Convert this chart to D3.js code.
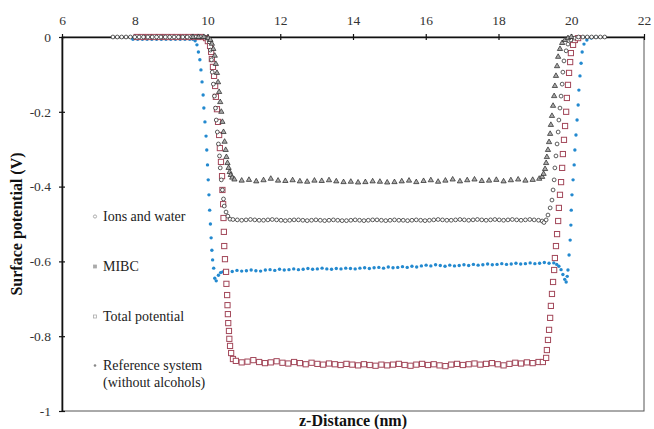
<!DOCTYPE html>
<html>
<head>
<meta charset="utf-8">
<script src="https://cdn.jsdelivr.net/npm/d3@7"></script>
<style>
  body { margin: 0; background: #fff; }
  svg text { font-family: "Liberation Serif", "Times New Roman", serif; }
</style>
</head>
<body>
<div id="viz"></div>
<script>
// axis ticks
const xTicks = [6, 8, 10, 12, 14, 16, 18, 20, 22];
const yTicks = [0, -0.2, -0.4, -0.6, -0.8, -1];

// MIBC (triangles)
const mibcX = [9.60, 9.75, 9.90,
  10.02, 10.08, 10.12, 10.16, 10.20, 10.23, 10.26, 10.29, 10.32, 10.35, 10.38, 10.41, 10.44, 10.47, 10.50, 10.52, 10.55, 10.58, 10.61, 10.64, 10.68,
  10.74, 10.94, 11.14, 11.34, 11.54, 11.74, 11.94, 12.14, 12.34, 12.54, 12.74, 12.94, 13.14, 13.34, 13.54, 13.74, 13.94, 14.14, 14.34, 14.54, 14.74,
  14.94, 15.14, 15.34, 15.54, 15.74, 15.94, 16.14, 16.34, 16.54, 16.74, 16.94, 17.14, 17.34, 17.54, 17.74, 17.94, 18.14, 18.34, 18.54, 18.74, 18.94, 19.12,
  19.20, 19.24, 19.28, 19.31, 19.33, 19.36, 19.39, 19.42, 19.44, 19.47, 19.50, 19.53, 19.55, 19.58, 19.61, 19.64, 19.69, 19.75, 19.83, 19.91, 20.00];
const mibcY = [0, 0, 0,
  -0.003, -0.008, -0.018, -0.032, -0.050, -0.072, -0.096, -0.121, -0.147, -0.174, -0.200, -0.227, -0.254, -0.280, -0.302, -0.321, -0.337, -0.350, -0.361, -0.369, -0.376,
  -0.381, -0.384, -0.382, -0.386, -0.383, -0.379, -0.384, -0.385, -0.383, -0.386, -0.387, -0.384, -0.385, -0.383, -0.386, -0.388, -0.387, -0.389, -0.388, -0.386, -0.387,
  -0.389, -0.388, -0.386, -0.384, -0.388, -0.385, -0.383, -0.387, -0.384, -0.381, -0.386, -0.383, -0.381, -0.385, -0.384, -0.382, -0.386, -0.383, -0.381, -0.384, -0.382, -0.379,
  -0.374, -0.366, -0.353, -0.337, -0.321, -0.302, -0.281, -0.259, -0.235, -0.211, -0.184, -0.158, -0.131, -0.104, -0.078, -0.053, -0.032, -0.016, -0.008, -0.003, 0];

// Ions and water (open circles)
const ionsX = [7.40, 7.52, 7.64, 7.76, 7.88, 8.00, 8.12, 8.24, 8.36, 8.48, 8.60, 8.72, 8.84, 8.96, 9.08, 9.20, 9.32, 9.44, 9.56, 9.68, 9.80, 9.92,
  10.00, 10.05, 10.08, 10.11, 10.13, 10.16, 10.19, 10.22, 10.24, 10.27, 10.30, 10.33, 10.35, 10.38, 10.41, 10.44, 10.46, 10.51, 10.56, 10.62,
  10.70, 10.82, 10.94, 11.06, 11.18, 11.30, 11.42, 11.54, 11.66, 11.78, 11.90, 12.02, 12.14, 12.26, 12.38, 12.50, 12.62, 12.74, 12.86, 12.98,
  13.10, 13.22, 13.34, 13.46, 13.58, 13.70, 13.82, 13.94, 14.06, 14.18, 14.30, 14.42, 14.54, 14.66, 14.78, 14.90, 15.02, 15.14, 15.26, 15.38,
  15.50, 15.62, 15.74, 15.86, 15.98, 16.10, 16.22, 16.34, 16.46, 16.58, 16.70, 16.82, 16.94, 17.06, 17.18, 17.30, 17.42, 17.54, 17.66, 17.78,
  17.90, 18.02, 18.14, 18.26, 18.38, 18.50, 18.62, 18.74, 18.86, 18.98, 19.10,
  19.20, 19.25, 19.31, 19.36, 19.42, 19.47, 19.50, 19.53, 19.55, 19.58, 19.61, 19.64, 19.66, 19.69, 19.72, 19.75, 19.77, 19.80, 19.86, 19.91,
  19.99, 20.08, 20.20, 20.32, 20.44, 20.56, 20.68, 20.80, 20.92];
const ionsY = [0, 0, 0, 0, 0, 0, 0, 0, 0, 0, 0, 0, 0, 0, 0, 0, 0, 0, 0, 0, 0, 0,
  -0.003, -0.013, -0.035, -0.061, -0.094, -0.126, -0.158, -0.190, -0.222, -0.254, -0.286, -0.318, -0.350, -0.382, -0.409, -0.433, -0.452, -0.468, -0.479, -0.487,
  -0.488, -0.489, -0.490, -0.489, -0.488, -0.489, -0.490, -0.490, -0.489, -0.488, -0.489, -0.490, -0.491, -0.490, -0.489, -0.489, -0.490, -0.491, -0.490, -0.489,
  -0.490, -0.491, -0.490, -0.489, -0.490, -0.491, -0.491, -0.490, -0.489, -0.490, -0.491, -0.490, -0.489, -0.489, -0.490, -0.491, -0.490, -0.489, -0.490, -0.490,
  -0.491, -0.490, -0.489, -0.490, -0.491, -0.490, -0.489, -0.488, -0.489, -0.490, -0.490, -0.489, -0.488, -0.489, -0.490, -0.489, -0.488, -0.489, -0.490, -0.489,
  -0.488, -0.489, -0.490, -0.489, -0.488, -0.489, -0.490, -0.489, -0.488, -0.489, -0.490,
  -0.492, -0.496, -0.489, -0.476, -0.457, -0.436, -0.409, -0.382, -0.350, -0.318, -0.286, -0.254, -0.222, -0.190, -0.158, -0.126, -0.094, -0.064, -0.037, -0.019,
  -0.008, -0.003, 0, 0, 0, 0, 0, 0, 0];

// Total potential (open squares)
const totalX = [8.05, 8.21, 8.37, 8.53, 8.69, 8.85, 9.01, 9.17, 9.33, 9.49, 9.65, 9.81,
  9.96, 10.01, 10.07, 10.10, 10.12, 10.15, 10.18, 10.21, 10.23, 10.26, 10.29, 10.32, 10.34, 10.37, 10.40, 10.41, 10.43, 10.44, 10.45, 10.46,
  10.48, 10.51, 10.52, 10.54, 10.55, 10.56, 10.57, 10.59, 10.60, 10.62, 10.65, 10.70,
  10.78, 10.94, 11.10, 11.26, 11.42, 11.58, 11.74, 11.90, 12.06, 12.22, 12.38, 12.54, 12.70, 12.86, 13.02, 13.18, 13.34, 13.50, 13.66, 13.82,
  13.98, 14.14, 14.30, 14.46, 14.62, 14.78, 14.94, 15.10, 15.26, 15.42, 15.58, 15.74, 15.90, 16.06, 16.22, 16.38, 16.54, 16.70, 16.86, 17.02,
  17.18, 17.34, 17.50, 17.66, 17.82, 17.98, 18.14, 18.30, 18.46, 18.62, 18.78, 18.94, 19.10,
  19.22, 19.31, 19.33, 19.36, 19.39, 19.42, 19.44, 19.47, 19.50, 19.53, 19.55, 19.58, 19.61, 19.64, 19.66, 19.69, 19.72, 19.75, 19.77, 19.80,
  19.83, 19.86, 19.88, 19.91, 19.94, 19.97, 19.99, 20.05, 20.10, 20.19];
const totalY = [0, 0, 0, 0, 0, 0, 0, 0, 0, 0, 0, 0,
  -0.003, -0.011, -0.024, -0.040, -0.059, -0.080, -0.104, -0.131, -0.160, -0.193, -0.227, -0.262, -0.297, -0.334, -0.372, -0.409, -0.447, -0.484, -0.521, -0.559,
  -0.594, -0.628, -0.660, -0.690, -0.717, -0.741, -0.765, -0.786, -0.807, -0.826, -0.845, -0.861,
  -0.866, -0.870, -0.868, -0.864, -0.869, -0.872, -0.870, -0.867, -0.871, -0.873, -0.869, -0.872, -0.875, -0.871, -0.874, -0.876, -0.873, -0.875, -0.877, -0.874,
  -0.876, -0.878, -0.875, -0.877, -0.879, -0.876, -0.878, -0.876, -0.874, -0.877, -0.879, -0.876, -0.874, -0.877, -0.875, -0.878, -0.880, -0.876, -0.874, -0.877,
  -0.875, -0.873, -0.876, -0.874, -0.872, -0.875, -0.878, -0.874, -0.871, -0.873, -0.870, -0.872, -0.869,
  -0.869, -0.858, -0.837, -0.810, -0.783, -0.751, -0.719, -0.687, -0.655, -0.623, -0.591, -0.559, -0.527, -0.492, -0.457, -0.422, -0.388, -0.350, -0.313, -0.275,
  -0.238, -0.200, -0.163, -0.128, -0.096, -0.067, -0.043, -0.021, -0.008, -0.003];

// Reference system without alcohols (small filled dots)
const refX = [7.95, 8.08, 8.21, 8.34, 8.47, 8.60, 8.73, 8.86, 8.99, 9.12, 9.25, 9.38, 9.51, 9.60,
  9.66, 9.71, 9.75, 9.79, 9.82, 9.85, 9.88, 9.90, 9.93, 9.96, 9.98, 10.00, 10.02, 10.04, 10.06, 10.08, 10.10, 10.12, 10.14, 10.17, 10.20, 10.24, 10.30, 10.36,
  10.42, 10.55, 10.68, 10.81, 10.94, 11.07, 11.20, 11.33, 11.46, 11.59, 11.72, 11.85, 11.98, 12.11, 12.24, 12.37, 12.50, 12.63, 12.76, 12.89,
  13.02, 13.15, 13.28, 13.41, 13.54, 13.67, 13.80, 13.93, 14.06, 14.19, 14.32, 14.45, 14.58, 14.71, 14.84, 14.97, 15.10, 15.23, 15.36, 15.49,
  15.62, 15.75, 15.88, 16.01, 16.14, 16.27, 16.40, 16.53, 16.66, 16.79, 16.92, 17.05, 17.18, 17.31, 17.44, 17.57, 17.70, 17.83, 17.96, 18.09,
  18.22, 18.35, 18.48, 18.61, 18.74, 18.87, 19.00, 19.13, 19.26, 19.39, 19.52,
  19.60, 19.66, 19.72, 19.77, 19.82, 19.86, 19.89, 19.91, 19.94, 19.97, 19.99, 20.00, 20.02, 20.05, 20.08, 20.10, 20.13, 20.16, 20.19, 20.21,
  20.24, 20.27, 20.30, 20.35, 20.43, 20.55, 20.68];
const refY = [-0.006, -0.006, -0.006, -0.006, -0.006, -0.006, -0.006, -0.006, -0.006, -0.006, -0.006, -0.006, -0.006, -0.006,
  -0.010, -0.021, -0.040, -0.061, -0.088, -0.120, -0.155, -0.190, -0.227, -0.265, -0.302, -0.342, -0.382, -0.422, -0.463, -0.500, -0.537, -0.570, -0.596, -0.618, -0.645, -0.652, -0.637, -0.630,
  -0.628, -0.626, -0.627, -0.624, -0.626, -0.625, -0.623, -0.625, -0.626, -0.623, -0.622, -0.624, -0.621, -0.623, -0.622, -0.620, -0.622, -0.621, -0.619, -0.621,
  -0.620, -0.618, -0.620, -0.621, -0.619, -0.620, -0.618, -0.619, -0.620, -0.618, -0.617, -0.619, -0.617, -0.616, -0.618, -0.615, -0.617, -0.616, -0.614, -0.616,
  -0.613, -0.615, -0.612, -0.610, -0.612, -0.609, -0.611, -0.613, -0.610, -0.612, -0.611, -0.609, -0.611, -0.608, -0.610, -0.609, -0.607, -0.609, -0.608, -0.606,
  -0.608, -0.607, -0.605, -0.607, -0.606, -0.604, -0.606, -0.605, -0.603, -0.605, -0.604,
  -0.608, -0.613, -0.622, -0.635, -0.648, -0.655, -0.640, -0.623, -0.583, -0.543, -0.503, -0.463, -0.422, -0.382, -0.342, -0.302, -0.262, -0.222, -0.182, -0.142,
  -0.104, -0.070, -0.040, -0.019, -0.008, -0.003, 0];

const legendNames = ["Ions and water", "MIBC", "Total potential", "Reference system", "(without alcohols)"];

const serif = '"Liberation Serif", "Times New Roman", serif';

function drawChart() {
  const width = 654;
  const height = 429;
  const margin = { top: 37, right: 10, bottom: 18, left: 62 };

  const svg = d3
    .select("#viz")
    .append("svg")
    .attr("width", width)
    .attr("height", height)
    .style("font-family", serif);

  const x = d3.scaleLinear().domain([6, 22]).range([margin.left, width - margin.right]);
  const y = d3.scaleLinear().domain([-1, 0]).range([height - margin.bottom, margin.top]);

  // plot frame (right and bottom)
  svg
    .append("rect")
    .attr("x", x(6))
    .attr("y", y(0))
    .attr("width", x(22) - x(6))
    .attr("height", y(-1) - y(0))
    .attr("fill", "none")
    .attr("stroke", "#555")
    .attr("stroke-width", 1);

  // top axis
  const xAxis = svg
    .append("g")
    .attr("transform", `translate(0,${y(0)})`)
    .call(d3.axisTop(x).tickValues(xTicks).tickSizeInner(3).tickSizeOuter(0).tickPadding(9));
  xAxis.attr("font-family", null);
  xAxis.select(".domain").attr("stroke", "#111").attr("stroke-width", 1.6);
  xAxis.selectAll(".tick line").attr("y1", 3).attr("stroke", "#111").attr("stroke-width", 1.2);
  xAxis.selectAll(".tick text")
    .style("font-family", serif)
    .style("font-size", "13.5px")
    .attr("fill", "#333");

  // left axis
  const yAxis = svg
    .append("g")
    .attr("transform", `translate(${x(6)},0)`)
    .call(
      d3.axisLeft(y)
        .tickValues(yTicks)
        .tickFormat((d) => String(d))
        .tickSizeInner(3)
        .tickSizeOuter(0)
        .tickPadding(8)
    );
  yAxis.attr("font-family", null);
  yAxis.select(".domain").attr("stroke", "#111").attr("stroke-width", 1.6);
  yAxis.selectAll(".tick line").attr("x1", 3).attr("stroke", "#111").attr("stroke-width", 1.2);
  yAxis.selectAll(".tick text")
    .style("font-family", serif)
    .style("font-size", "13.5px")
    .attr("fill", "#333");

  // series
  const refData = d3.zip(refX, refY);
  const totalData = d3.zip(totalX, totalY);
  const ionsData = d3.zip(ionsX, ionsY);
  const mibcData = d3.zip(mibcX, mibcY);

  svg
    .append("g")
    .selectAll("circle")
    .data(refData)
    .enter()
    .append("circle")
    .attr("cx", (d) => x(d[0]))
    .attr("cy", (d) => y(d[1]))
    .attr("r", 1.7)
    .attr("fill", "#2389cf");

  svg
    .append("g")
    .selectAll("rect")
    .data(totalData)
    .enter()
    .append("rect")
    .attr("x", (d) => x(d[0]) - 2.6)
    .attr("y", (d) => y(d[1]) - 2.6)
    .attr("width", 5.2)
    .attr("height", 5.2)
    .attr("fill", "#fff")
    .attr("stroke", "#a3485a")
    .attr("stroke-width", 1);

  svg
    .append("g")
    .selectAll("circle")
    .data(ionsData)
    .enter()
    .append("circle")
    .attr("cx", (d) => x(d[0]))
    .attr("cy", (d) => y(d[1]))
    .attr("r", 1.9)
    .attr("fill", "#fff")
    .attr("stroke", "#333")
    .attr("stroke-width", 0.8);

  const tri = d3.symbol().type(d3.symbolTriangle).size(12);
  svg
    .append("g")
    .selectAll("path")
    .data(mibcData)
    .enter()
    .append("path")
    .attr("d", tri)
    .attr("transform", (d) => `translate(${x(d[0])},${y(d[1])})`)
    .attr("fill", "#aaa")
    .attr("stroke", "#222")
    .attr("stroke-width", 0.7);

  // legend
  const legendX = 103;
  const legendRows = [221, 271, 321, 370, 387];
  const legend = svg.append("g");
  legend
    .selectAll("text")
    .data(legendNames)
    .enter()
    .append("text")
    .attr("x", legendX)
    .attr("y", (d, i) => legendRows[i])
    .text((d) => d)
    .style("font-family", serif)
    .style("font-size", "14px")
    .attr("fill", "#222");

  const legendMarks = ["circle", "square", "square", "dot"];
  legendMarks.forEach((m, i) => {
    const cy = legendRows[i] - 4.5;
    if (m === "circle") {
      legend.append("circle").attr("cx", 95).attr("cy", cy).attr("r", 1.6)
        .attr("fill", "#fff").attr("stroke", "#999").attr("stroke-width", 0.8);
    } else if (m === "square") {
      legend.append("rect").attr("x", 93.5).attr("y", cy - 1.5).attr("width", 3).attr("height", 3)
        .attr("fill", i === 1 ? "#aaa" : "#fff").attr("stroke", "#aaa").attr("stroke-width", 0.8);
    } else {
      legend.append("circle").attr("cx", 95).attr("cy", cy).attr("r", 1.3).attr("fill", "#888");
    }
  });

  // axis titles
  svg
    .append("text")
    .attr("x", (x(6) + x(22)) / 2)
    .attr("y", 426)
    .attr("text-anchor", "middle")
    .style("font-family", serif)
    .style("font-size", "16px")
    .style("font-weight", "bold")
    .attr("fill", "#111")
    .text("z-Distance (nm)");

  svg
    .append("text")
    .attr("transform", `translate(22,${(y(0) + y(-1)) / 2}) rotate(-90)`)
    .attr("text-anchor", "middle")
    .style("font-family", serif)
    .style("font-size", "16px")
    .style("font-weight", "bold")
    .attr("fill", "#111")
    .text("Surface potential (V)");
}

drawChart();
</script>
</body>
</html>
